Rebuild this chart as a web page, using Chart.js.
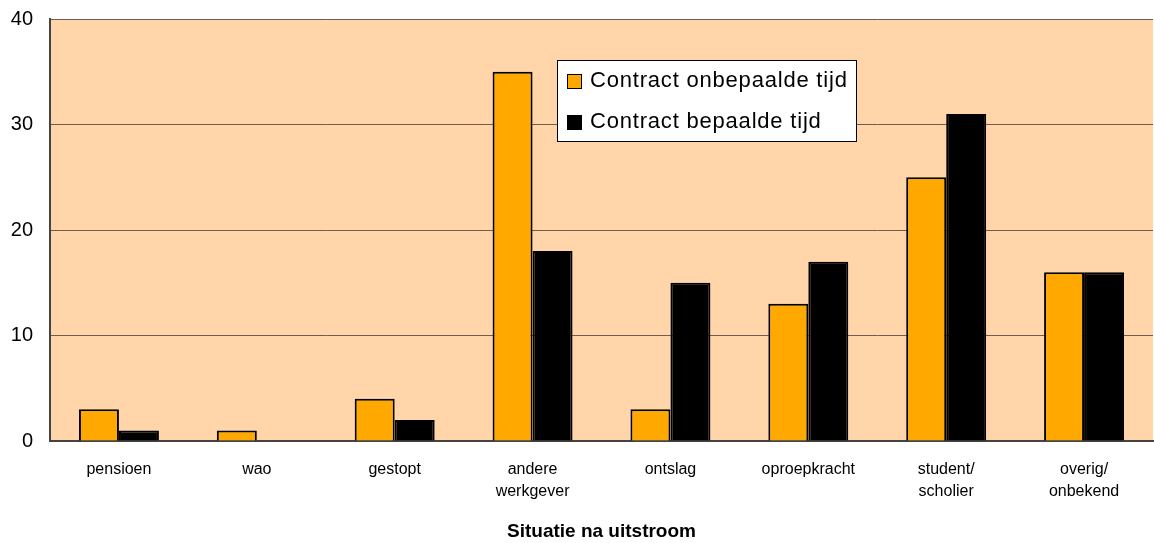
<!DOCTYPE html>
<html>
<head>
<meta charset="utf-8">
<script src="https://cdn.jsdelivr.net/npm/chart.js@4/dist/chart.umd.min.js"></script>
<style>
  html, body { margin: 0; padding: 0; background: #fff; }
</style>
</head>
<body>
<canvas id="uitstroomChart" width="1154" height="543"></canvas>
<script>
  const categories = ['pensioen', 'wao', 'gestopt', ['andere', 'werkgever'], 'ontslag', 'oproepkracht', ['student/', 'scholier'], ['overig/', 'onbekend']];
  const onbepaald = [3, 1, 4, 35, 3, 13, 25, 16];
  const bepaald = [1, 0, 2, 18, 15, 17, 31, 16];
  const yTicks = [0, 10, 20, 30, 40];

  // peach plot background + legend box inside the plot
  const plotDecor = {
    id: 'plotDecor',
    beforeDraw(chart) {
      const a = chart.chartArea, c = chart.ctx;
      c.save();
      c.fillStyle = '#FFD5A9';
      c.fillRect(a.left, a.top, a.right - a.left, a.bottom - a.top);
      c.restore();
    },
    afterDraw(chart) {
      const c = chart.ctx;
      const x = 557, y = 60, w = 299, h = 81;
      c.save();
      c.fillStyle = '#fff';
      c.strokeStyle = '#000';
      c.lineWidth = 1;
      c.fillRect(x, y, w, h);
      c.strokeRect(x + 0.5, y + 0.5, w, h);
      c.font = '22px "Liberation Sans", Arial, sans-serif';
      c.letterSpacing = '0.8px';
      c.textBaseline = 'middle';
      chart.data.datasets.forEach((ds, i) => {
        const cy = y + 21 + i * 41;
        c.fillStyle = ds.backgroundColor;
        c.fillRect(x + 10, cy - 7, 15, 15);
        c.strokeStyle = '#000';
        c.lineWidth = 1;
        c.strokeRect(x + 10.5, cy - 6.5, 14, 14);
        c.fillStyle = '#000';
        c.fillText(ds.label, x + 33, cy);
      });
      c.restore();
    }
  };

  const ctx = document.getElementById('uitstroomChart').getContext('2d');
  new Chart(ctx, {
    type: 'bar',
    data: {
      labels: categories,
      datasets: [{
        label: 'Contract onbepaalde tijd',
        data: onbepaald,
        backgroundColor: '#FFA800',
        borderColor: '#000',
        borderWidth: 2,
        borderSkipped: 'bottom'
      }, {
        label: 'Contract bepaalde tijd',
        data: bepaald,
        backgroundColor: '#000',
        borderColor: '#000',
        borderWidth: 2,
        borderSkipped: 'bottom'
      }]
    },
    options: {
      responsive: false,
      animation: false,
      layout: { padding: { top: 19, right: 1, left: 0, bottom: 0 } },
      datasets: { bar: { categoryPercentage: 0.58, barPercentage: 1 } },
      plugins: {
        legend: { display: false },
        tooltip: { enabled: false }
      },
      scales: {
        x: {
          afterFit(scale) { scale.height = 102; },
          grid: { display: false, drawTicks: false },
          border: { color: '#444', width: 2 },
          ticks: {
            color: '#000',
            padding: 17,
            maxRotation: 0,
            font: { family: '"Liberation Sans", Arial, sans-serif', size: 16, lineHeight: 1.4 }
          },
          title: {
            display: true,
            text: 'Situatie na uitstroom',
            color: '#000',
            padding: { top: 0, bottom: 0 },
            font: { family: '"Liberation Sans", Arial, sans-serif', size: 19, weight: 'bold' }
          }
        },
        y: {
          min: 0,
          max: 40,
          afterBuildTicks(scale) { scale.ticks = yTicks.map(v => ({ value: v })); },
          afterFit(scale) {
            scale.width = 50;
            scale.paddingTop = 0;
            scale.paddingBottom = 0;
          },
          grid: { color: '#6e5e50', drawTicks: false },
          border: { color: '#444', width: 2 },
          ticks: {
            color: '#000',
            padding: 17,
            font: { family: '"Liberation Sans", Arial, sans-serif', size: 20 }
          }
        }
      }
    },
    plugins: [plotDecor]
  });
</script>
</body>
</html>
